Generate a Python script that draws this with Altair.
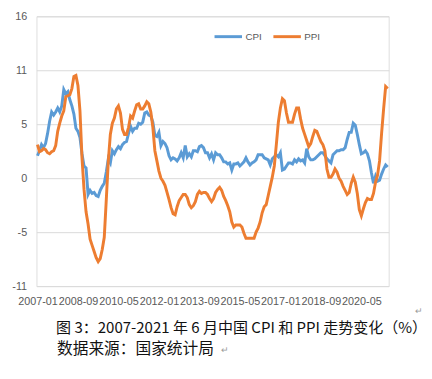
import altair as alt
import pandas as pd

cpi = [2.2, 2.7, 3.3, 3.0, 3.4, 4.4, 5.6, 6.5, 6.2, 6.5, 6.9, 6.5,
       7.1, 8.7, 8.3, 8.5, 7.7, 7.1, 6.3, 4.9, 4.6, 4.0, 2.4, 1.2,
       1.0, -1.6, -1.2, -1.5, -1.4, -1.7, -1.8, -1.2, -0.8, -0.5, 0.6, 1.9,
       1.5, 2.7, 2.4, 2.8, 3.1, 2.9, 3.3, 3.5, 3.6, 4.4, 5.1, 4.6,
       4.9, 4.9, 5.4, 5.3, 5.5, 6.4, 6.5, 6.2, 6.1, 5.5, 4.2, 4.1,
       4.5, 3.2, 3.6, 3.4, 3.0, 2.2, 1.8, 2.0, 1.9, 1.7, 2.0, 2.5,
       2.0, 3.2, 2.1, 2.4, 2.1, 2.7, 2.7, 2.6, 3.1, 3.2, 3.0, 2.5,
       2.5, 2.0, 2.4, 1.8, 2.5, 2.3, 2.3, 2.0, 1.6, 1.6, 1.4, 1.5,
       0.8, 1.4, 1.4, 1.5, 1.2, 1.4, 1.6, 2.0, 1.6, 1.3, 1.5, 1.6,
       1.8, 2.3, 2.3, 2.3, 2.0, 1.9, 1.8, 1.3, 1.9, 2.1, 2.3, 2.1,
       2.5, 0.8, 0.9, 1.2, 1.5, 1.5, 1.4, 1.8, 1.6, 1.9, 1.7, 1.8,
       1.5, 2.9, 2.1, 1.8, 1.8, 1.9, 2.1, 2.3, 2.5, 2.5, 2.2, 1.9,
       1.7, 1.5, 2.3, 2.5, 2.7, 2.7, 2.8, 2.8, 3.0, 3.8, 4.5, 4.5,
       5.4, 5.2, 4.3, 3.3, 2.4, 2.5, 2.7, 2.4, 1.7, 0.5, -0.5, 0.2,
       -0.3, -0.2, 0.4, 0.9, 1.3, 1.1]

ppi = [3.3, 2.6, 2.7, 2.9, 2.8, 2.5, 2.4, 2.6, 2.7, 3.2, 4.6, 5.4,
       6.1, 6.6, 8.0, 8.1, 8.2, 8.8, 10.0, 10.1, 9.1, 6.6, 2.0, -1.1,
       -3.3, -4.5, -6.0, -6.6, -7.2, -7.8, -8.2, -7.9, -7.0, -5.8, -2.1, 1.7,
       4.3, 5.4, 5.9, 6.8, 7.1, 6.4, 4.8, 4.3, 4.3, 5.0, 6.1, 5.9,
       6.6, 7.2, 7.3, 6.8, 6.8, 7.1, 7.5, 7.3, 6.5, 5.0, 2.7, 1.7,
       0.7, 0.0, -0.3, -0.7, -1.4, -2.1, -2.9, -3.5, -3.6, -2.8, -2.2, -1.9,
       -1.6, -1.6, -1.9, -2.6, -2.9, -2.7, -2.3, -1.6, -1.3, -1.5, -1.4, -1.4,
       -1.6, -2.0, -2.3, -2.0, -1.4, -1.1, -0.9, -1.2, -1.8, -2.2, -2.7, -3.3,
       -4.3, -4.8, -4.6, -4.6, -4.6, -4.8, -5.4, -5.9, -5.9, -5.9, -5.9, -5.9,
       -5.3, -4.9, -4.3, -3.4, -2.8, -2.6, -1.7, -0.8, 0.1, 1.2, 3.3, 5.5,
       6.9, 7.8, 7.6, 6.4, 5.5, 5.5, 5.5, 6.3, 6.9, 6.9, 5.8, 4.9,
       4.3, 3.7, 3.1, 3.4, 4.1, 4.7, 4.6, 4.1, 3.6, 3.3, 2.7, 0.9,
       0.1, 0.1, 0.4, 0.9, 0.6, 0.0, -0.3, -0.8, -1.2, -1.6, -1.4, -0.5,
       0.1, -0.4, -1.5, -3.1, -3.7, -3.0, -2.4, -2.0, -2.1, -2.1, -1.5, -0.4,
       0.3, 1.7, 4.4, 6.8, 9.0, 8.8]

months = [f"{y}-{m:02d}" for y in range(2007, 2022) for m in range(1, 13)][:len(cpi)]
x_ticks = ["2007-01", "2008-09", "2010-05", "2012-01", "2013-09",
           "2015-05", "2017-01", "2018-09", "2020-05"]
y_ticks = [-10.6, -5.3, 0, 5.3, 10.6, 15.9]
series = ["CPI", "PPI"]
colors = ["#5B9BD5", "#ED7D31"]
caption = "图 3：2007-2021 年 6 月中国 CPI 和 PPI 走势变化（%）"
source = "数据来源：国家统计局"

df = pd.DataFrame({
    "month": months + months,
    "value": cpi + ppi,
    "series": [series[0]] * len(cpi) + [series[1]] * len(ppi),
})

FONT = "Liberation Sans"
CJK = "Noto Sans CJK SC"

lines = alt.Chart(df).mark_line(strokeWidth=3).encode(
    x=alt.X("month:O",
            scale=alt.Scale(type="point", domain=months, padding=0.5),
            axis=alt.Axis(values=x_ticks, labelAngle=0, title=None, grid=False,
                          ticks=False, domain=False, labelColor="#595959",
                          labelFontSize=11, labelFont=FONT, labelPadding=10,
                          labelOverlap=False)),
    y=alt.Y("value:Q",
            scale=alt.Scale(domain=[-10.6, 15.9], nice=False, zero=False),
            axis=alt.Axis(values=y_ticks, labelExpr="toString(round(datum.value))",
                          title=None, ticks=False, domain=False, grid=True,
                          gridColor="#D9D9D9", gridWidth=1, labelColor="#595959",
                          labelFontSize=11, labelFont=FONT, labelPadding=10)),
    color=alt.Color("series:N",
                    scale=alt.Scale(domain=series, range=colors),
                    legend=alt.Legend(orient="none", legendX=180, legendY=5,
                                      direction="horizontal", title=None,
                                      symbolType="stroke", symbolSize=784,
                                      symbolStrokeWidth=3, labelFontSize=10,
                                      labelFont=FONT, labelColor="#595959",
                                      labelOffset=2, columnPadding=5)),
)

cap = alt.Chart(pd.DataFrame({"t": [caption]})).mark_text(
    align="left", baseline="middle", fontSize=15.3, font=CJK, color="#111111"
).encode(x=alt.value(20), y=alt.value(318), text="t:N")

src = alt.Chart(pd.DataFrame({"t": [source]})).mark_text(
    align="left", baseline="middle", fontSize=16, font=CJK, color="#111111"
).encode(x=alt.value(21), y=alt.value(339), text="t:N")

marks = alt.Chart(pd.DataFrame({"t": ["↵", "↵"], "px": [386, 188], "py": [300, 340]})).mark_text(
    align="left", baseline="middle", fontSize=9, font=FONT, color="#9a9a9a"
).encode(x=alt.X("px:Q", scale=None), y=alt.Y("py:Q", scale=None), text="t:N")

chart = alt.layer(lines, cap, src, marks).properties(
    width=359, height=275,
    autosize=alt.AutoSizeParams(type="none"),
    padding={"left": 29, "top": 5, "right": 36, "bottom": 80},
).configure_view(stroke=None).configure(background="white")

chart.save("out.html", embed_options={"renderer": "svg", "actions": False})
